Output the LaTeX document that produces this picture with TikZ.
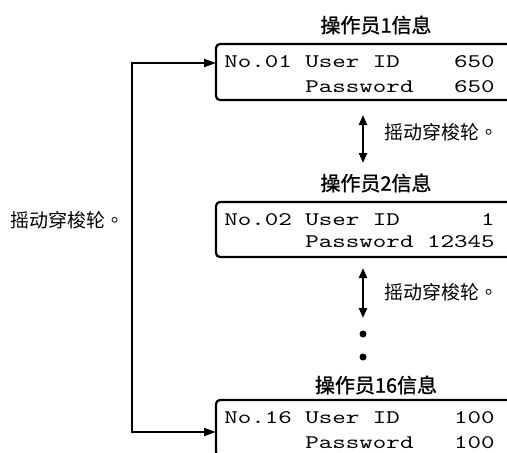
\documentclass[tikz,border=0pt]{standalone}
\usepackage{fontspec}
\newfontfamily\cjk{Noto Sans CJK SC}
\newfontfamily\cjkhead[FakeBold=1.2]{Noto Sans CJK SC}
\newfontfamily\cjktc{Noto Sans CJK TC}
\usetikzlibrary{arrows.meta}
\newcommand{\lcd}[1]{\scalebox{1.34}[1]{\fontsize{9.6}{11}\selectfont\ttfamily\frenchspacing #1}}
\newcommand{\turnwheel}{摇动穿梭轮{\cjktc 。}}

\begin{document}
\begin{tikzpicture}[x=0.5pt, y=-0.5pt,
panel/.style={draw, line width=1.1pt, rounded corners=2pt, minimum width=157pt, minimum height=28pt, inner sep=0pt},
lcdrow/.style={anchor=base west, inner sep=0pt},
title/.style={font=\cjkhead\fontsize{10}{12}\selectfont, inner sep=0pt},
note/.style={font=\cjk\fontsize{9.5}{11}\selectfont, inner sep=0pt, anchor=west},
link/.style={line width=1.1pt, {Triangle[length=6pt, width=4pt]}-{Triangle[length=6pt, width=4pt]}},
both/.style={line width=1.1pt, {Triangle[length=5pt, width=4pt]}-{Triangle[length=5pt, width=4pt]}},
dot/.style={circle, fill, inner sep=0pt, minimum size=3.5pt}]
\useasboundingbox (0,0) rectangle (507,452);
\clip (0,0) rectangle (507,452);

% operator 1
\node[title] (t1) at (376,25) {操作员1信息};
\node[panel] (op1) at (373,72) {};
\node[lcdrow] (op1a) at (224,67) {\lcd{No.01 User ID~~~~650}};
\node[lcdrow] (op1b) at (224,92) {\lcd{~~~~~~Password~~~650}};

\coordinate (a1) at (363,115);
\coordinate (b1) at (363,163);
\draw[both] (a1) -- (b1);
\node[note] (n1) at (384,132) {\turnwheel};

% operator 2
\node[title] (t2) at (376,183) {操作员2信息};
\node[panel, minimum height=27.5pt] (op2) at (373,229.5) {};
\node[lcdrow] (op2a) at (224,225) {\lcd{No.02 User ID~~~~~~1}};
\node[lcdrow] (op2b) at (224,247) {\lcd{~~~~~~Password 12345}};

\coordinate (a2) at (363,268);
\coordinate (b2) at (363,318);
\draw[both] (a2) -- (b2);
\node[note] (n2) at (384,292) {\turnwheel};
\node[dot] (d1) at (363,334) {};
\node[dot] (d2) at (363,357) {};

% operator 16
\node[title] (t3) at (376,385) {操作员16信息};
\node[panel] (op3) at (373,428) {};
\node[lcdrow] (op3a) at (224,423) {\lcd{No.16 User ID~~~~100}};
\node[lcdrow] (op3b) at (224,448) {\lcd{~~~~~~Password~~~100}};

% wrap round
\coordinate (in1) at (216,63);
\coordinate (in3) at (216,432);
\coordinate (turn) at (132,250);
\draw[link] (in1) -| (turn) |- (in3);
\node[note] (n0) at (10,220) {\turnwheel};
\end{tikzpicture}
\end{document}
